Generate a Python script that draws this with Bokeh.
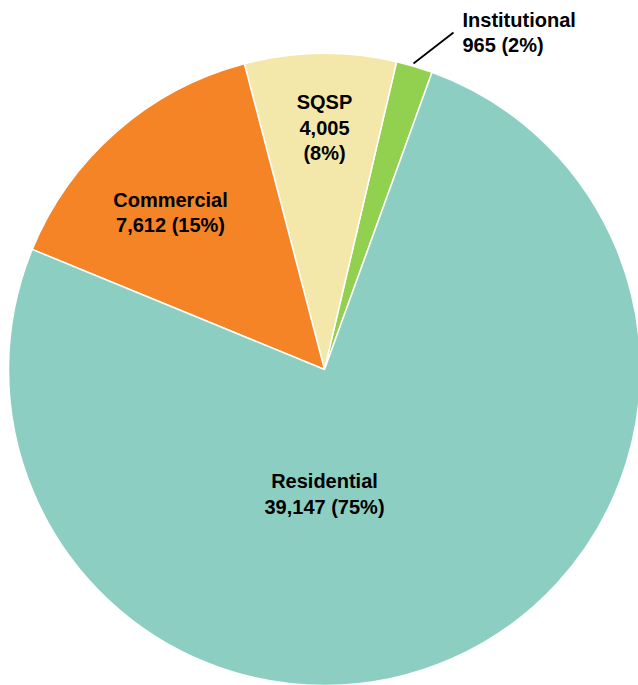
import math
from bokeh.plotting import figure
from bokeh.models import ColumnDataSource, Range1d
from bokeh.core.properties import value
from bokeh.embed import file_html
from bokeh.resources import INLINE

# data (counter-clockwise order starting at the institutional slice)
categories = ["Institutional", "SQSP", "Commercial", "Residential"]
counts = [965, 4005, 7612, 39147]
pct_labels = ["2%", "8%", "15%", "75%"]
colors = ["#92d050", "#f3e8a9", "#f58426", "#8ccfc2"]

W, H = 638, 685
cx, cy = 324, H - 369
R = 316
start_deg = 70.1

total = sum(counts)
starts, ends = [], []
a = math.radians(start_deg)
for c in counts:
    starts.append(a)
    a += 2 * math.pi * c / total
    ends.append(a)

p = figure(width=W, height=H, output_backend="svg", toolbar_location=None,
           x_range=Range1d(0, W), y_range=Range1d(0, H), min_border=0)
p.axis.visible = False
p.grid.visible = False
p.outline_line_color = None
p.background_fill_color = "white"

src = ColumnDataSource(dict(start=starts, end=ends, color=colors))
p.wedge(x=cx, y=cy, radius=R, start_angle="start", end_angle="end",
        fill_color="color", line_color="white", line_width=1.5, source=src)

# label layout (pixel positions from top-left)
lines = []
xs, ys, aligns = [], [], []
layout = {
    "Institutional": (462, [19, 44], "left", True),
    "SQSP": (324, [101, 127, 152], "center", False),
    "Commercial": (170, [199, 224], "center", True),
    "Residential": (324, [480, 506], "center", True),
}
for cat, cnt, pc in zip(categories, counts, pct_labels):
    x, yl, al, two = layout[cat]
    if two:
        txt = [cat, f"{cnt:,} ({pc})"]
    else:
        txt = [cat, f"{cnt:,}", f"({pc})"]
    for t, yy in zip(txt, yl):
        lines.append(t)
        xs.append(x)
        ys.append(H - yy)
        aligns.append(al)

tsrc = ColumnDataSource(dict(x=xs, y=ys, text=lines, align=aligns))
p.text(x="x", y="y", text="text", text_align="align", text_baseline="middle",
       text_font=value("Liberation Sans"), text_font_style="bold",
       text_font_size="20px", text_color="#000000", source=tsrc)

# leader line for institutional
p.line(x=[413, 453], y=[H - 63, H - 32], line_color="black", line_width=1.8)

open("out.html", "w").write(file_html(p, INLINE))
